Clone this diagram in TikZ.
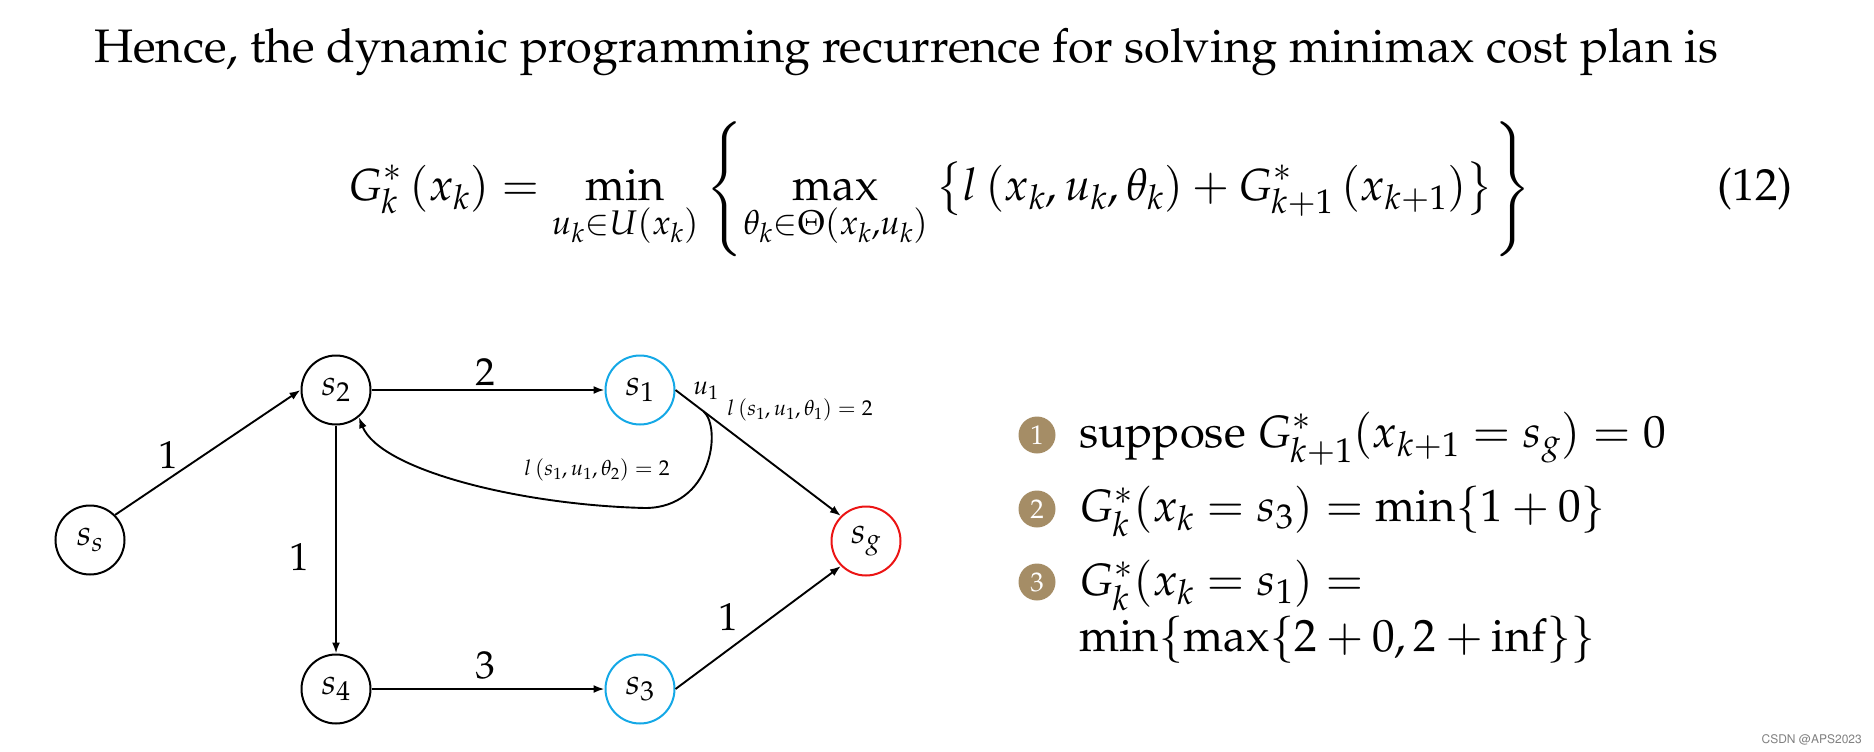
\documentclass[tikz,border=0pt]{standalone}
\usepackage[T1]{fontenc}
\usepackage{mathpazo}
\usetikzlibrary{arrows.meta}
\definecolor{tan}{RGB}{165,141,102}
\definecolor{sblue}{RGB}{20,168,230}
\definecolor{sred}{RGB}{235,20,20}
\begin{document}
\begin{tikzpicture}[x=1pt,y=-1pt,
 st/.style={circle,draw,line width=2pt,minimum size=69pt,inner sep=0pt,font=\fontsize{36}{40}\selectfont},
 ed/.style={line width=1.9pt,-{Latex[length=11pt,width=8pt]}},
 el/.style={font=\fontsize{39}{44}\selectfont},
 sm/.style={font=\fontsize{21.5}{26}\selectfont},
 num/.style={circle,fill=tan,text=white,minimum size=37pt,inner sep=0pt,font=\fontsize{27}{30}\selectfont},
 li/.style={anchor=base west,font=\fontsize{45.3}{52}\selectfont,inner sep=0pt}]
\useasboundingbox (0,0) rectangle (1874,752);
\node[anchor=base west,inner sep=0pt,font=\fontsize{47}{56}\selectfont] (title) at (94,63) {Hence, the dynamic programming recurrence for solving minimax cost plan is};
\node[anchor=base west,inner sep=0pt,font=\fontsize{45}{54}\selectfont] (eq) at (348,200) {$\displaystyle G_k^*\left(x_k\right)=\min_{u_k\in U\left(x_k\right)}\left\{\max_{\theta_k\in\Theta\left(x_k,u_k\right)}\left\{l\left(x_k,u_k,\theta_k\right)+G_{k+1}^*\left(x_{k+1}\right)\right\}\right\}$};
\node[anchor=base east,inner sep=0pt,font=\fontsize{45}{54}\selectfont] (tag) at (1793,200) {(12)};
% graph
\node[st] (ss) at (90,540) {$s_s$};
\node[st] (s2) at (336,390) {$s_2$};
\node[st,draw=sblue] (s1) at (640,390) {$s_1$};
\node[st,draw=sred] (sg) at (866,541) {$s_g$};
\node[st] (s4) at (336,689) {$s_4$};
\node[st,draw=sblue] (s3) at (640,689) {$s_3$};
\draw[ed] (ss.north east) -- (s2.west);
\draw[ed] (s2.east) -- (s1.west);
\draw[ed] (s2.south) -- (s4.north);
\draw[ed] (s4.east) -- (s3.west);
\draw[ed] (s3.east) -- (sg.south west);
\draw[ed] (s1.east) -- (sg.north west) coordinate[pos=0.17] (c0);
\draw[ed] (c0) .. controls (722,428) and (712,508) .. (645,508) .. controls (520,505) and (380,470) .. (s2.-50);
\node[el] (l1) at (168,455) {$1$};
\node[el] (l2) at (485,372) {$2$};
\node[el] (l3) at (299,557) {$1$};
\node[el] (l4) at (485,665) {$3$};
\node[el] (l5) at (728,617) {$1$};
\node[font=\fontsize{26}{30}\selectfont] (u1) at (706,391) {$u_1$};
\node[sm] (lt1) at (800,410) {$l\left(s_1,u_1,\theta_1\right)=2$};
\node[sm] (lt2) at (597,470) {$l\left(s_1,u_1,\theta_2\right)=2$};
% list
\node[num] (n1) at (1037,435) {1};
\node[num] (n2) at (1037,509) {2};
\node[num] (n3) at (1037,582) {3};
\node[li] (t1) at (1079,447) {suppose $G_{k+1}^*(x_{k+1}=s_g)=0$};
\node[li] (t2) at (1079,521) {$G_k^*(x_k=s_3)=\min\{1+0\}$};
\node[li] (t3) at (1079,595) {$G_k^*(x_k=s_1)=$};
\node[li] (t4) at (1079,651) {$\min\{\max\{2+0,2+\mathrm{inf}\}\}$};
\node[anchor=base east,inner sep=0pt,text=gray,font=\fontfamily{phv}\fontsize{12}{14}\selectfont] (wm) at (1862,743) {CSDN @APS2023};
\end{tikzpicture}
\end{document}
